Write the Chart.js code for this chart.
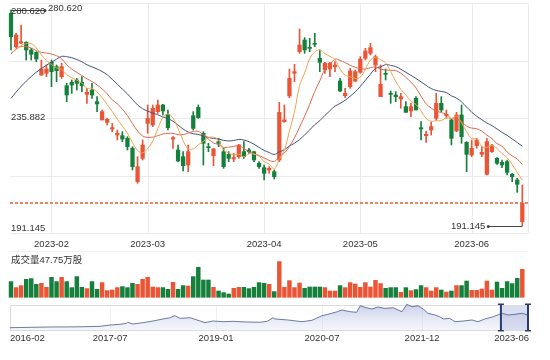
<!DOCTYPE html>
<html><head><meta charset="utf-8">
<script src="https://cdn.jsdelivr.net/npm/chart.js"></script>
<style>html,body{margin:0;padding:0;background:#fff;}canvas{display:block;}</style>
</head><body>
<canvas id="c" width="550" height="360"></canvas>
<script>
// ---------------- DATA ----------------
const dates = [
 '2023-01-13','2023-01-16','2023-01-17','2023-01-18','2023-01-19','2023-01-20','2023-01-30','2023-01-31',
 '2023-02-01','2023-02-02','2023-02-03','2023-02-06','2023-02-07','2023-02-08','2023-02-09','2023-02-10','2023-02-13','2023-02-14','2023-02-15','2023-02-16','2023-02-17','2023-02-20','2023-02-21','2023-02-22','2023-02-23','2023-02-24','2023-02-27',
 '2023-03-01','2023-03-02','2023-03-03','2023-03-06','2023-03-07','2023-03-08','2023-03-09','2023-03-10','2023-03-13','2023-03-14','2023-03-15','2023-03-16','2023-03-17','2023-03-20','2023-03-21','2023-03-22','2023-03-23','2023-03-24','2023-03-27','2023-03-28','2023-03-29','2023-03-30','2023-03-31',
 '2023-04-03','2023-04-04','2023-04-06','2023-04-07','2023-04-10','2023-04-11','2023-04-12','2023-04-13','2023-04-14','2023-04-17','2023-04-18','2023-04-19','2023-04-20','2023-04-21','2023-04-24','2023-04-25','2023-04-26','2023-04-27','2023-04-28',
 '2023-05-02','2023-05-03','2023-05-04','2023-05-05','2023-05-08','2023-05-09','2023-05-10','2023-05-11','2023-05-12','2023-05-15','2023-05-16','2023-05-17','2023-05-18','2023-05-19','2023-05-22','2023-05-23','2023-05-24','2023-05-25','2023-05-26','2023-05-29','2023-05-30','2023-05-31',
 '2023-06-01','2023-06-02','2023-06-05','2023-06-06','2023-06-07','2023-06-08','2023-06-09','2023-06-12','2023-06-13','2023-06-14','2023-06-15'
];
const open = [279.24,265.43,266.95,267.23,264.05,263.08,253.69,254.38,258.94,257.15,
 253.00,249.27,250.66,251.62,250.66,245.69,247.48,242.65,235.05,234.08,
 231.33,228.84,228.56,227.46,223.32,209.51,219.17,233.67,232.98,238.51,
 241.27,237.40,227.18,222.62,219.87,216.41,236.85,240.30,229.53,224.01,
 220.28,226.08,221.94,220.83,218.90,219.87,221.94,222.62,221.94,217.10,
 215.31,214.34,213.65,218.49,234.37,245.00,254.39,263.36,268.20,265.02,
 266.82,260.60,255.77,256.18,257.15,251.21,245.14,248.87,251.21,254.80,
 260.60,262.67,257.84,244.72,254.39,246.10,245.41,243.76,240.58,238.79,
 244.03,231.88,228.57,230.91,235.75,241.96,236.85,235.06,230.50,237.13,
 225.81,220.56,224.42,220.84,212.55,221.94,219.18,217.52,217.80,212.55,
 210.20,192.94];
const close = [269.57,270.26,267.50,264.05,262.25,260.32,256.18,256.18,255.07,255.49,
 257.15,245.41,249.55,250.24,249.27,246.51,245.41,241.68,238.51,235.33,
 231.88,229.53,227.18,224.01,215.72,215.72,224.70,235.74,239.89,241.27,
 238.78,231.88,227.73,218.07,216.14,221.94,231.60,236.02,225.39,223.59,
 223.04,225.39,215.72,219.17,219.45,224.70,219.87,221.94,218.48,215.72,
 212.96,215.03,211.58,238.23,235.06,252.32,255.08,266.12,264.05,264.74,
 266.40,258.94,258.53,258.53,257.84,247.07,246.10,255.36,255.08,260.33,
 263.64,265.02,261.29,249.83,253.97,245.69,244.72,244.72,238.23,240.58,
 239.20,231.33,229.12,232.30,241.96,239.20,237.40,227.46,237.13,228.16,
 220.84,223.32,226.77,221.66,226.08,224.42,217.11,216.41,213.38,211.58,
 208.41,200.54];
const low = [264.05,265.00,266.60,259.91,259.91,259.22,253.50,253.00,248.86,250.93,
 252.31,242.65,246.10,247.48,246.79,241.96,244.03,238.51,235.05,232.98,
 230.22,226.77,226.08,222.62,214.34,208.82,218.48,229.53,232.29,237.81,
 237.12,230.91,223.32,217.79,213.93,213.65,230.91,235.74,216.41,221.94,
 216.14,224.01,215.03,217.79,217.79,219.17,219.17,221.24,217.79,215.03,
 210.20,212.96,210.62,217.80,234.09,244.31,250.94,262.67,262.67,263.36,
 265.43,255.08,254.39,253.01,255.08,246.79,244.31,248.18,250.94,254.39,
 259.91,261.98,255.08,244.72,251.63,241.96,242.65,239.89,238.23,236.44,
 239.20,226.77,225.81,228.84,235.06,238.51,235.75,224.70,230.23,225.39,
 213.65,219.87,223.32,219.87,212.27,221.66,216.69,215.31,212.27,209.51,
 205.10,191.145];
const high = [280.62,270.95,274.41,267.50,264.74,263.36,259.91,257.84,259.91,257.84,
 258.53,250.24,251.62,252.31,253.00,248.17,250.24,244.72,239.19,235.74,
 233.67,230.91,230.22,228.15,224.01,219.87,226.77,241.27,241.27,243.34,
 241.54,239.19,228.15,224.70,221.94,224.70,238.51,241.27,230.22,225.39,
 223.32,227.46,223.32,221.94,221.24,224.98,226.08,223.32,221.94,217.79,
 216.41,215.72,214.34,242.38,241.27,256.18,258.12,272.75,269.16,268.89,
 270.96,264.05,258.94,258.94,259.22,252.32,248.18,256.46,255.77,261.29,
 264.74,266.82,261.98,257.84,256.18,247.07,246.79,246.10,242.65,241.96,
 244.72,234.37,230.50,234.09,246.10,244.72,239.20,235.75,238.23,241.27,
 226.08,226.77,227.46,224.01,227.46,224.98,219.45,218.49,218.49,212.96,
 210.89,208.13];
// volume, 万股
const volume = [26.77,16.54,19.95,30.69,31.88,22.17,23.87,17.05,34.10,26.77,
 34.10,26.77,16.54,35.29,17.05,14.83,26.77,13.64,25.06,11.42,
 12.45,16.54,18.24,16.54,23.87,22.17,30.69,34.10,17.56,16.54,
 16.54,13.64,25.58,13.64,19.95,19.27,35.29,51.15,29.50,29.50,
 17.05,10.74,8.01,5.63,15.35,17.05,17.05,14.83,17.05,25.06,
 23.87,22.17,9.72,60.87,17.05,28.47,16.54,24.38,15.35,17.56,
 17.56,17.56,16.54,10.74,10.74,19.95,16.54,25.06,22.68,17.05,
 25.06,17.56,28.99,23.36,15.35,16.54,16.54,8.53,16.54,11.42,
 13.13,19.95,16.54,10.74,16.54,12.45,9.04,10.74,19.95,19.95,
 27.79,11.94,11.94,14.15,27.79,12.45,26.09,15.35,26.77,23.36,
 32.40,47.75];
// closes before the visible window (estimated), seed the moving averages
const priorCloses = [218,220,221,223,225,226,228,230,231,234,248,258,265,268,271,263,259,260,262];
const maPeriods = [5, 10, 20];
// long-term history shown in the navigator (months since 2016-02, close)
const navMonths = [0,6.8,9.6,12.4,15.3,17.0,18.7,19.8,20.0,20.9,22.6,24.3,26.0,27.2,28.0,28.9,30.6,32.3,33.1,34.5,
 36.2,37.9,40.3,42.5,43.7,44.7,45.0,47.2,49.6,51.3,53.0,54.0,55.6,56.4,57.8,58.9,59.5,60.3,61.5,62.5,
 63.7,65.1,66.6,67.4,68.3,69.3,70.2,71.0,72.2,73.0,73.6,74.7,75.6,77.0,78.5,79.5,80.7,82.1,83.6,84.6,
 85.8,87.0,88.0];
const navValues = [66,75,76,78,84,100,109,122,135,113,130,151,177,193,218,185,193,151,130,151,
 142,147,138,135,147,193,177,164,142,160,218,236,269,291,269,262,345,325,304,329,
 312,320,269,363,333,345,304,249,227,206,177,185,142,151,164,142,177,206,249,227,
 236,249,227];
const navTickMonths = [0,17,35,53,70,88];
const navTickLabels = ['2016-02','2017-07','2019-01','2020-07','2021-12','2023-06'];

// ---------------- STYLE / LAYOUT ----------------
const W = 550, H = 360;
const UP = '#eb5536', DOWN = '#15803c';
const MA_COLORS = ['#f2a24c', '#dc6a4c', '#44507f'];
const TEXT = '#333';
const GRID = '#ebebeb';
const FONT = '9.5px "Liberation Sans", "Noto Sans CJK SC", Arial, sans-serif';
const L = {gridLeft:10, gridRight:528, gridTop:3, gridBottom:233, xLabelY:244,
  volLabelY:260.5, volLineY:251.5, navTop:305, navBottom:330, navLabelY:338.5};
const xFirst = 11, xStep = 5.0624;                 // candle 0 centre, spacing
const priceMaxPx = 10, priceMinPx = 226;            // data max/min pixel rows
const volBasePx = 297.3, volPerPx = 47.75 / 28;     // volume calibration
const navM0Px = 10, navPerMonth = 518 / 88;         // navigator x calibration
const navRefVal = 240, navRefPx = 314, navPerPx = 12.7;

// ---------------- DERIVED ----------------
const N = close.length;
const colors = close.map((c, i) => c >= open[i] ? UP : DOWN);
const pMax = Math.max(...high), pMin = Math.min(...low);
const pPerPx = (pMax - pMin) / (priceMinPx - priceMaxPx);
const allCloses = priorCloses.concat(close);
function movingAvg(n) {
  return close.map((_, i) => {
    const j = i + priorCloses.length; let s = 0;
    for (let t = j - n + 1; t <= j; t++) s += allCloses[t];
    return s / n;
  });
}
const monthStarts = [];
dates.forEach((d, i) => { if (i > 0 && d.slice(0, 7) !== dates[i - 1].slice(0, 7)) monthStarts.push(i); });
function monthsSince2016Feb(d) {
  const y = +d.slice(0, 4), m = +d.slice(5, 7), day = +d.slice(8, 10);
  return (y - 2016) * 12 + (m - 2) + (day - 1) / 30;
}
const navStart = monthsSince2016Feb(dates[0]);
const navEnd = Math.min(monthsSince2016Feb(dates[N - 1]), navTickMonths[navTickMonths.length - 1]);

const xMin = -xFirst / xStep, xMax = xMin + W / xStep;
const yPMax = pMax + priceMaxPx * pPerPx, yPMin = yPMax - H * pPerPx;
const yVMax = volBasePx * volPerPx, yVMin = yVMax - H * volPerPx;
const xNMin = -navM0Px / navPerMonth, xNMax = xNMin + W / navPerMonth;
const yNMax = navRefVal + navRefPx * navPerPx, yNMin = yNMax - H * navPerPx;
const navFloor = yNMax - L.navBottom * navPerPx;

function hl(ctx, x1, x2, y) { ctx.beginPath(); ctx.moveTo(x1, y); ctx.lineTo(x2, y); ctx.stroke(); }
function vl(ctx, x, y1, y2) { ctx.beginPath(); ctx.moveTo(x, y1); ctx.lineTo(x, y2); ctx.stroke(); }

const deco = {
  id: 'deco',
  beforeDatasetsDraw(chart) {
    const ctx = chart.ctx, s = chart.scales;
    ctx.save();
    ctx.strokeStyle = GRID; ctx.lineWidth = 1;
    for (let i = 0; i <= 4; i++) {
      const y = Math.round(L.gridTop + (L.gridBottom - L.gridTop) * i / 4) + 0.5;
      hl(ctx, L.gridLeft, L.gridRight, y);
    }
    monthStarts.forEach(k => { const x = Math.round(s.x.getPixelForValue(k)) + 0.5; vl(ctx, x, L.gridTop, L.gridBottom); });
    vl(ctx, L.gridRight + 0.5, L.gridTop, L.gridBottom);
    ctx.strokeStyle = '#f1f1f1';
    hl(ctx, L.gridLeft, L.gridRight, L.volLineY);
    // navigator box
    const nx0 = s.xN.getPixelForValue(navTickMonths[0]);
    const nx1 = s.xN.getPixelForValue(navTickMonths[navTickMonths.length - 1]);
    ctx.strokeStyle = '#f0f0f0';
    navTickMonths.slice(1, -1).forEach(m => { const x = Math.round(s.xN.getPixelForValue(m)) + 0.5; vl(ctx, x, L.navTop, L.navBottom); });
    const sx0 = s.xN.getPixelForValue(navStart), sx1 = s.xN.getPixelForValue(navEnd);
    ctx.fillStyle = 'rgba(150,160,215,0.35)';
    ctx.fillRect(sx0, L.navTop, sx1 - sx0, L.navBottom - L.navTop);
    ctx.strokeStyle = '#dcdcdc';
    ctx.strokeRect(Math.round(nx0) + 0.5, L.navTop + 0.5, Math.round(nx1 - nx0), L.navBottom - L.navTop);
    ctx.restore();
  },
  afterDatasetsDraw(chart) {
    const ctx = chart.ctx, s = chart.scales;
    ctx.save();
    // last close dashed line
    const yc = s.yP.getPixelForValue(close[N - 1]);
    ctx.strokeStyle = '#ee5a30'; ctx.lineWidth = 1.5; ctx.setLineDash([3, 2]);
    hl(ctx, L.gridLeft, L.gridRight, Math.round(yc));
    ctx.setLineDash([]);
    ctx.font = FONT; ctx.fillStyle = TEXT; ctx.textBaseline = 'middle';
    // max / min marks
    const iMax = high.indexOf(pMax), iMin = low.indexOf(pMin);
    const xa = s.x.getPixelForValue(iMax), ya = s.yP.getPixelForValue(pMax);
    ctx.strokeStyle = '#444'; ctx.lineWidth = 1;
    hl(ctx, xa, xa + 34, Math.round(ya) + 0.5);
    ctx.beginPath(); ctx.arc(xa + 34, Math.round(ya) + 0.5, 1.5, 0, 7); ctx.fillStyle = '#444'; ctx.fill();
    ctx.fillStyle = TEXT; ctx.textAlign = 'left';
    ctx.fillText(pMax.toFixed(3), xa + 37, ya - 1.5);
    const xb = s.x.getPixelForValue(iMin), yb = s.yP.getPixelForValue(pMin);
    hl(ctx, xb - 34, xb, Math.round(yb) + 0.5);
    ctx.beginPath(); ctx.arc(xb - 34, Math.round(yb) + 0.5, 1.5, 0, 7); ctx.fillStyle = '#444'; ctx.fill();
    ctx.fillStyle = TEXT; ctx.textAlign = 'right';
    ctx.fillText(pMin.toFixed(3), xb - 37, yb);
    // y labels (max, middle, min)
    ctx.textAlign = 'left';
    const mid = Math.floor((pMax + pMin) / 2 * 1000 + 1e-6) / 1000;
    ctx.fillText(pMax.toFixed(3), 11, s.yP.getPixelForValue(pMax) + 1);
    ctx.fillText(mid.toFixed(3), 11, s.yP.getPixelForValue(mid) - 1);
    ctx.fillText(pMin.toFixed(3), 11, s.yP.getPixelForValue(pMin) + 2.5);
    // x labels
    ctx.textAlign = 'center';
    monthStarts.forEach(k => ctx.fillText(dates[k].slice(0, 7), s.x.getPixelForValue(k), L.xLabelY));
    // volume label
    ctx.textAlign = 'left';
    ctx.fillText('成交量' + volume[N - 1].toFixed(2) + '万股', 11, L.volLabelY);
    // navigator labels
    navTickMonths.forEach((m, i) => {
      ctx.textAlign = i === 0 ? 'left' : (i === navTickMonths.length - 1 ? 'right' : 'center');
      ctx.fillText(navTickLabels[i], s.xN.getPixelForValue(m) + (i === navTickMonths.length - 1 ? 1 : 0), L.navLabelY);
    });
    // navigator handles
    ctx.fillStyle = '#2e3a6e';
    [navStart, navEnd].forEach(m => {
      const x = s.xN.getPixelForValue(m);
      ctx.fillRect(x - 1, L.navTop - 1, 2, L.navBottom - L.navTop + 2);
      ctx.fillRect(x - 3, L.navTop - 1.5, 6, 1.5);
      ctx.fillRect(x - 3, L.navBottom, 6, 1.5);
    });
    ctx.restore();
  }
};

const datasets = [
  {type:'bar', label:'wick', xAxisID:'x', yAxisID:'yP', order:3, grouped:false,
   data: close.map((_, i) => ({x:i, y:[low[i], high[i]]})), backgroundColor: colors, barThickness:1},
  {type:'bar', label:'body', xAxisID:'x', yAxisID:'yP', order:2, grouped:false, minBarLength:1,
   data: close.map((c, i) => ({x:i, y:[Math.min(open[i], c), Math.max(open[i], c)]})), backgroundColor: colors, barThickness:3.6},
  {type:'bar', label:'volume', xAxisID:'x', yAxisID:'yV', order:2, grouped:false,
   data: volume.map((v, i) => ({x:i, y:v})), backgroundColor: colors, barThickness:3.8},
];
maPeriods.forEach((n, j) => datasets.push({
  type:'line', label:'MA' + n, xAxisID:'x', yAxisID:'yP', order:0,
  data: movingAvg(n).map((v, i) => ({x:i, y:v})), borderColor: MA_COLORS[j], borderWidth:1,
  pointRadius:0, tension:0.35, fill:false
}));
datasets.push({
  type:'line', label:'history', xAxisID:'xN', yAxisID:'yN', order:1,
  data: navMonths.map((m, i) => ({x:m, y:navValues[i]})), borderColor:'#4d5a8c', borderWidth:0.8,
  pointRadius:0, tension:0, fill:{value: navFloor},
  backgroundColor: (ctx) => {
    const g = ctx.chart.ctx.createLinearGradient(0, L.navTop, 0, L.navBottom);
    g.addColorStop(0, 'rgba(160,168,215,0.55)'); g.addColorStop(1, 'rgba(215,220,240,0.25)');
    return g;
  }
});

new Chart(document.getElementById('c'), {
  type: 'bar',
  data: {datasets},
  options: {
    responsive:false, animation:false, devicePixelRatio:1,
    layout:{padding:0, autoPadding:false},
    plugins:{legend:{display:false}, tooltip:{enabled:false}},
    scales:{
      x:{type:'linear', min:xMin, max:xMax, display:false, offset:false},
      yP:{type:'linear', min:yPMin, max:yPMax, display:false},
      yV:{type:'linear', min:yVMin, max:yVMax, display:false},
      xN:{type:'linear', min:xNMin, max:xNMax, display:false, offset:false},
      yN:{type:'linear', min:yNMin, max:yNMax, display:false}
    }
  },
  plugins:[deco]
});
</script>
</body></html>
